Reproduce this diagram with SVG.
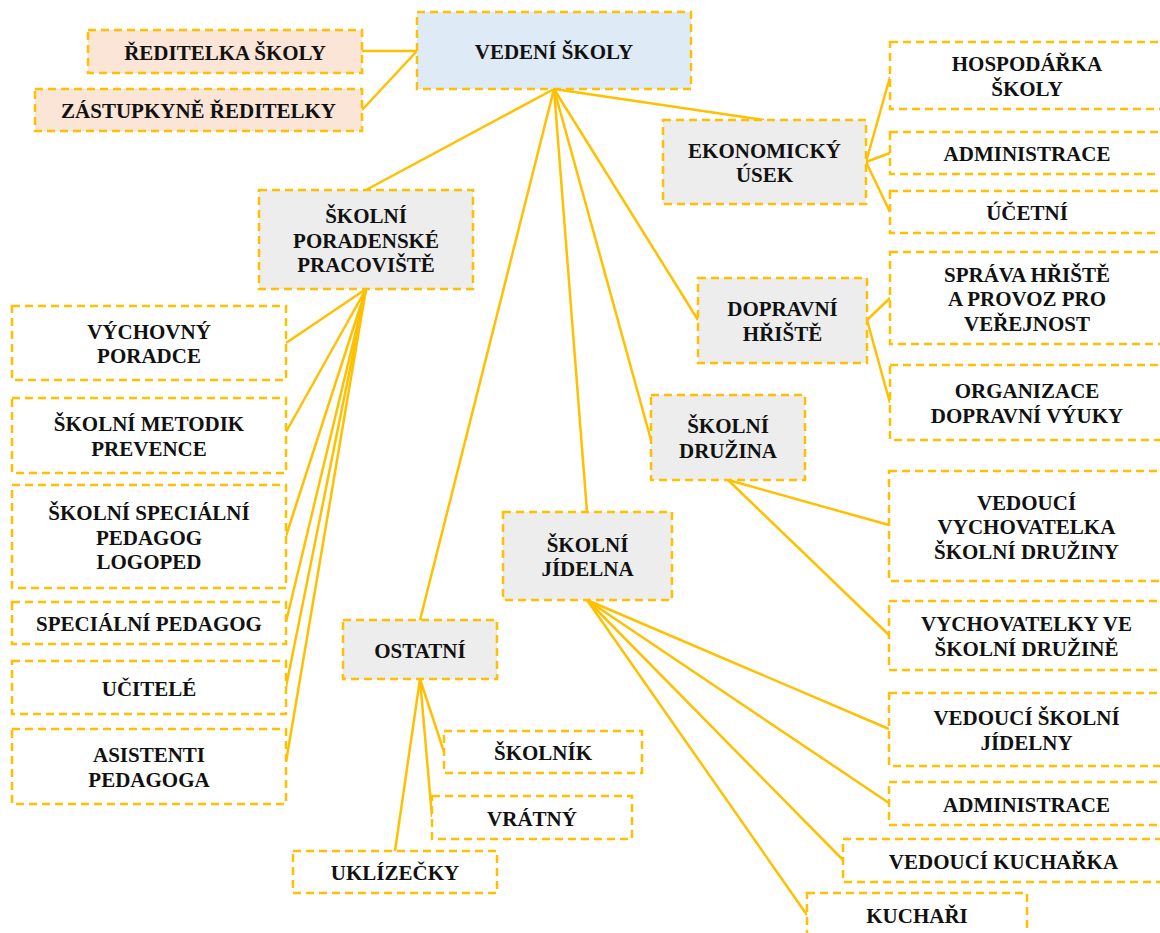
<svg xmlns="http://www.w3.org/2000/svg" width="1160" height="933" viewBox="0 0 1160 933">
<style>
.n rect{stroke:#ffc000;stroke-width:2.5;stroke-dasharray:8 5;fill:#ffffff}
.n rect.g{fill:#ededed}
.n rect.b{fill:#deeaf6}
.n rect.p{fill:#fbe5d6}
.n text{font-family:"Liberation Serif","Times New Roman",serif;font-weight:bold;font-size:21px;fill:#111;text-anchor:middle}
#connectors line{stroke:#ffc000;stroke-width:2.5;fill:none}
</style>
<rect width="1160" height="933" fill="#ffffff"/>
<g id="connectors">
<line x1="362" y1="51" x2="417" y2="51"/>
<line x1="362" y1="110" x2="417" y2="51"/>
<line x1="554" y1="89" x2="764" y2="120"/>
<line x1="554" y1="89" x2="366" y2="190"/>
<line x1="554" y1="89" x2="420" y2="620"/>
<line x1="554" y1="89" x2="587" y2="512"/>
<line x1="554" y1="89" x2="651" y2="440"/>
<line x1="554" y1="89" x2="698" y2="320"/>
<line x1="866" y1="162" x2="890" y2="77"/>
<line x1="866" y1="162" x2="890" y2="153"/>
<line x1="866" y1="162" x2="890" y2="212"/>
<line x1="867" y1="320" x2="890" y2="298"/>
<line x1="867" y1="320" x2="890" y2="403"/>
<line x1="728" y1="480" x2="889" y2="525"/>
<line x1="728" y1="480" x2="889" y2="635"/>
<line x1="366" y1="289" x2="286" y2="343"/>
<line x1="366" y1="289" x2="286" y2="432"/>
<line x1="366" y1="289" x2="286" y2="536"/>
<line x1="366" y1="289" x2="286" y2="622"/>
<line x1="366" y1="289" x2="286" y2="687"/>
<line x1="366" y1="289" x2="286" y2="762"/>
<line x1="420" y1="679" x2="444" y2="752"/>
<line x1="420" y1="679" x2="432" y2="817"/>
<line x1="420" y1="679" x2="395" y2="851"/>
<line x1="587" y1="600" x2="889" y2="729"/>
<line x1="587" y1="600" x2="889" y2="803"/>
<line x1="587" y1="600" x2="843" y2="860"/>
<line x1="587" y1="600" x2="807" y2="915"/>
</g>
<g id="vedeni" class="n"><rect class="b" x="417" y="12" width="274" height="77"/><text x="554" y="58.5">VEDENÍ ŠKOLY</text></g>
<g id="reditelka" class="n"><rect class="p" x="88" y="30" width="274" height="43"/><text x="225" y="59.5">ŘEDITELKA ŠKOLY</text></g>
<g id="zastupkyne" class="n"><rect class="p" x="35" y="89" width="327" height="42"/><text x="198.5" y="118">ZÁSTUPKYNĚ ŘEDITELKY</text></g>
<g id="ekonomicky" class="n"><rect class="g" x="663" y="120" width="203" height="84"/><text x="764.5"><tspan x="764.5" y="157.75">EKONOMICKÝ</tspan><tspan x="764.5" y="182.25">ÚSEK</tspan></text></g>
<g id="hospodarka" class="n"><rect x="890" y="42" width="274" height="67"/><text x="1027"><tspan x="1027" y="71.25">HOSPODÁŘKA</tspan><tspan x="1027" y="95.75">ŠKOLY</tspan></text></g>
<g id="administrace1" class="n"><rect x="890" y="132" width="274" height="42"/><text x="1027" y="161">ADMINISTRACE</text></g>
<g id="ucetni" class="n"><rect x="890" y="191" width="274" height="42"/><text x="1027" y="220">ÚČETNÍ</text></g>
<g id="dopravni" class="n"><rect class="g" x="698" y="278" width="169" height="85"/><text x="782.5"><tspan x="782.5" y="316.25">DOPRAVNÍ</tspan><tspan x="782.5" y="340.75">HŘIŠTĚ</tspan></text></g>
<g id="sprava" class="n"><rect x="890" y="252" width="274" height="92"/><text x="1027"><tspan x="1027" y="281.5">SPRÁVA HŘIŠTĚ</tspan><tspan x="1027" y="306">A PROVOZ PRO</tspan><tspan x="1027" y="330.5">VEŘEJNOST</tspan></text></g>
<g id="organizace" class="n"><rect x="890" y="365" width="274" height="75"/><text x="1027"><tspan x="1027" y="398.25">ORGANIZACE</tspan><tspan x="1027" y="422.75">DOPRAVNÍ VÝUKY</tspan></text></g>
<g id="druzina" class="n"><rect class="g" x="651" y="395" width="154" height="85"/><text x="728"><tspan x="728" y="433.25">ŠKOLNÍ</tspan><tspan x="728" y="457.75">DRUŽINA</tspan></text></g>
<g id="vedouci-vychovatelka" class="n"><rect x="889" y="471" width="275" height="110"/><text x="1026.5"><tspan x="1026.5" y="509.5">VEDOUCÍ</tspan><tspan x="1026.5" y="534">VYCHOVATELKA</tspan><tspan x="1026.5" y="558.5">ŠKOLNÍ DRUŽINY</tspan></text></g>
<g id="vychovatelky" class="n"><rect x="889" y="601" width="275" height="69"/><text x="1026.5"><tspan x="1026.5" y="631.25">VYCHOVATELKY VE</tspan><tspan x="1026.5" y="655.75">ŠKOLNÍ DRUŽINĚ</tspan></text></g>
<g id="jidelna" class="n"><rect class="g" x="503" y="512" width="169" height="88"/><text x="587.5"><tspan x="587.5" y="551.75">ŠKOLNÍ</tspan><tspan x="587.5" y="576.25">JÍDELNA</tspan></text></g>
<g id="vedouci-jidelny" class="n"><rect x="889" y="693" width="275" height="73"/><text x="1026.5"><tspan x="1026.5" y="725.25">VEDOUCÍ ŠKOLNÍ</tspan><tspan x="1026.5" y="749.75">JÍDELNY</tspan></text></g>
<g id="administrace2" class="n"><rect x="889" y="782" width="275" height="43"/><text x="1026.5" y="811.5">ADMINISTRACE</text></g>
<g id="vedouci-kucharka" class="n"><rect x="843" y="839" width="321" height="43"/><text x="1003.5" y="868.5">VEDOUCÍ KUCHAŘKA</text></g>
<g id="kuchari" class="n"><rect x="807" y="893" width="220" height="43"/><text x="917" y="922.5">KUCHAŘI</text></g>
<g id="poradenske" class="n"><rect class="g" x="259" y="190" width="214" height="99"/><text x="366"><tspan x="366" y="223">ŠKOLNÍ</tspan><tspan x="366" y="247.5">PORADENSKÉ</tspan><tspan x="366" y="272">PRACOVIŠTĚ</tspan></text></g>
<g id="vychovny" class="n"><rect x="12" y="306" width="274" height="74"/><text x="149"><tspan x="149" y="338.75">VÝCHOVNÝ</tspan><tspan x="149" y="363.25">PORADCE</tspan></text></g>
<g id="metodik" class="n"><rect x="12" y="398" width="274" height="75"/><text x="149"><tspan x="149" y="431.25">ŠKOLNÍ METODIK</tspan><tspan x="149" y="455.75">PREVENCE</tspan></text></g>
<g id="logoped" class="n"><rect x="12" y="485" width="274" height="103"/><text x="149"><tspan x="149" y="520">ŠKOLNÍ SPECIÁLNÍ</tspan><tspan x="149" y="544.5">PEDAGOG</tspan><tspan x="149" y="569">LOGOPED</tspan></text></g>
<g id="specialni" class="n"><rect x="12" y="602" width="274" height="42"/><text x="149" y="631">SPECIÁLNÍ PEDAGOG</text></g>
<g id="ucitele" class="n"><rect x="12" y="661" width="274" height="53"/><text x="149" y="695.5">UČITELÉ</text></g>
<g id="asistenti" class="n"><rect x="12" y="729" width="274" height="75"/><text x="149"><tspan x="149" y="762.25">ASISTENTI</tspan><tspan x="149" y="786.75">PEDAGOGA</tspan></text></g>
<g id="ostatni" class="n"><rect class="g" x="343" y="620" width="154" height="59"/><text x="420" y="657.5">OSTATNÍ</text></g>
<g id="skolnik" class="n"><rect x="444" y="731" width="198" height="42"/><text x="543" y="760">ŠKOLNÍK</text></g>
<g id="vratny" class="n"><rect x="432" y="796" width="200" height="43"/><text x="532" y="825.5">VRÁTNÝ</text></g>
<g id="uklizecky" class="n"><rect x="293" y="851" width="204" height="42"/><text x="395" y="880">UKLÍZEČKY</text></g>
</svg>
